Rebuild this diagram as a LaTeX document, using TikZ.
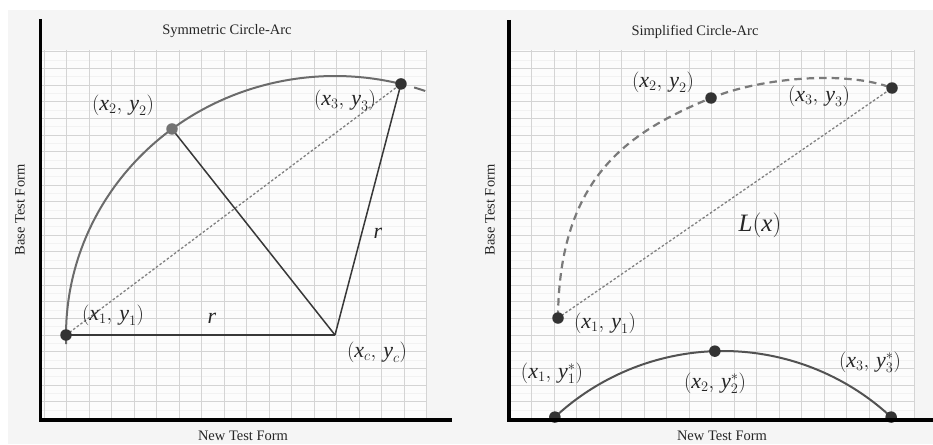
\documentclass[tikz,border=0pt]{standalone}
\usepackage{amsmath}
\usepackage{fontspec}
\setmainfont{Liberation Serif}
\newcommand{\vx}{\textit{x}}
\newcommand{\vy}{\textit{y}}
\begin{document}
\begin{tikzpicture}[x=1pt,y=-1pt,
  axisline/.style={line width=3.5pt,black,line join=miter},
  gridmajor/.style={draw=black!17,line width=1pt},
  gridminor/.style={draw=black!5,line width=0.8pt},
  arcline/.style={draw=black!58,line width=2pt},
  botarc/.style={draw=black!68,line width=2pt},
  radline/.style={draw=black!78,line width=1.5pt},
  chord/.style={draw=black!50,line width=1.3pt,dash pattern=on 2.5pt off 2pt},
  dashedarc/.style={draw=black!52,line width=2.2pt,dash pattern=on 7.5pt off 5pt},
  dotdark/.style={circle,fill=black!80,inner sep=0pt,minimum size=11.5pt},
  dotgray/.style={circle,fill=black!55,inner sep=0pt,minimum size=11.5pt},
  lab/.style={font=\fontsize{22}{24}\selectfont,inner sep=0pt,text=black!85},
  txt/.style={font=\fontsize{14.5}{16}\selectfont,inner sep=0pt,text=black!85}]
\useasboundingbox (0,0) rectangle (933,444);
\fill[white] (0,0) rectangle (933,444);
\fill[black!4] (8,10) rectangle (933,444);
% grid areas
\fill[black!1] (42,50) rectangle (427,420);
\fill[black!1] (510,50) rectangle (915,420);
\foreach \k in {0,...,21} {
  \draw[gridminor] (42,{60.03+\k*16.667}) -- (427,{60.03+\k*16.667});
  \draw[gridminor] (510,{60.03+\k*16.667}) -- (915,{60.03+\k*16.667});
  \draw[gridmajor] (42,{51.7+\k*16.667}) -- (427,{51.7+\k*16.667});
  \draw[gridmajor] (510,{51.7+\k*16.667}) -- (915,{51.7+\k*16.667});
}
\foreach \k in {0,...,17} {
  \draw[gridmajor] ({44.3+\k*22.5},50) -- ({44.3+\k*22.5},420);
  \draw[gridmajor] ({531.7+\k*22.5},50) -- ({531.7+\k*22.5},420);
}
% ---------- left panel ----------
\coordinate (LC) at (335,335);
\coordinate (LP1) at (66,335);
\coordinate (LP2) at ({335+269*cos(127.3)},{335-259*sin(127.3)});
\coordinate (LP3) at ({335+269*cos(75.8)},{335-259*sin(75.8)});
\draw[arcline] plot[domain=182:75.8,samples=90,variable=\t] ({335+269*cos(\t)},{335-259*sin(\t)});
\draw[arcline] plot[domain=72.9:70.4,samples=5,variable=\t] ({335+269*cos(\t)},{335-259*sin(\t)});
\draw[chord] (LP1) -- (LP3);
\draw[radline] (LP1) -- (LC);
\draw[radline] (LC) -- (LP2);
\draw[radline] (LC) -- (LP3);
\node[dotdark] (ld1) at (LP1) {};
\node[dotgray] (ld2) at (LP2) {};
\node[dotdark] (ld3) at (LP3) {};
\node[lab] (l2) at (123,105) {$(\vx_2,\,\vy_2)$};
\node[lab] (l3) at (345,100) {$(\vx_3,\,\vy_3)$};
\node[lab] (l1) at (113,315) {$(\vx_1,\,\vy_1)$};
\node[lab] (lr1) at (212,318) {$\textit{r}$};
\node[lab] (lr2) at (378,233) {$\textit{r}$};
\node[lab] (lc) at (377,352) {$(\vx_c,\,\vy_c)$};
\node[txt] (lt) at (227,31) {Symmetric Circle-Arc};
\node[txt,rotate=90] (lyl) at (20,210) {Base Test Form};
\node[txt] (lxl) at (243,436) {New Test Form};
\draw[axisline] (40.7,19) -- (40.7,420) -- (452,420);
% ---------- right panel ----------
\coordinate (RP1) at (558,318);
\coordinate (RP2) at (711,98);
\coordinate (RP3) at (892,88);
\coordinate (RB1) at ({723+247*cos(132.9)},{598-247*sin(132.9)});
\coordinate (RB2) at ({723+247*cos(91.9)},{598-247*sin(91.9)});
\coordinate (RB3) at ({723+247*cos(47.1)},{598-247*sin(47.1)});
\draw[dashedarc] (RP1) .. controls (559,175) and (631,131) .. (RP2)
  .. controls (760,78) and (845,70) .. (RP3);
\draw[chord] (RP1) -- (RP3);
\draw[botarc] plot[domain=132.9:47.1,samples=80,variable=\t] ({723+247*cos(\t)},{598-247*sin(\t)});
\node[dotdark] (rd1) at (RP1) {};
\node[dotdark] (rd2) at (RP2) {};
\node[dotdark] (rd3) at (RP3) {};
\node[dotdark] (rb1) at (RB1) {};
\node[dotdark] (rb2) at (RB2) {};
\node[dotdark] (rb3) at (RB3) {};
\node[lab] (r2) at (663,82) {$(\vx_2,\,\vy_2)$};
\node[lab] (r3) at (819,96) {$(\vx_3,\,\vy_3)$};
\node[lab] (r1) at (605,323) {$(\vx_1,\,\vy_1)$};
\node[lab,font=\fontsize{25}{27}\selectfont] (rl) at (760,225) {$\textit{L}(\vx)$};
\node[lab] (rs1) at (552,373) {$(\vx_1,\,\vy_1^{*})$};
\node[lab] (rs2) at (715,383) {$(\vx_2,\,\vy_2^{*})$};
\node[lab] (rs3) at (870,362) {$(\vx_3,\,\vy_3^{*})$};
\node[txt] (rt) at (695,32) {Simplified Circle-Arc};
\node[txt,rotate=90] (ryl) at (490,210) {Base Test Form};
\node[txt] (rxl) at (722,436) {New Test Form};
\draw[axisline] (509,20) -- (509,420) -- (933,420);
\end{tikzpicture}
\end{document}
